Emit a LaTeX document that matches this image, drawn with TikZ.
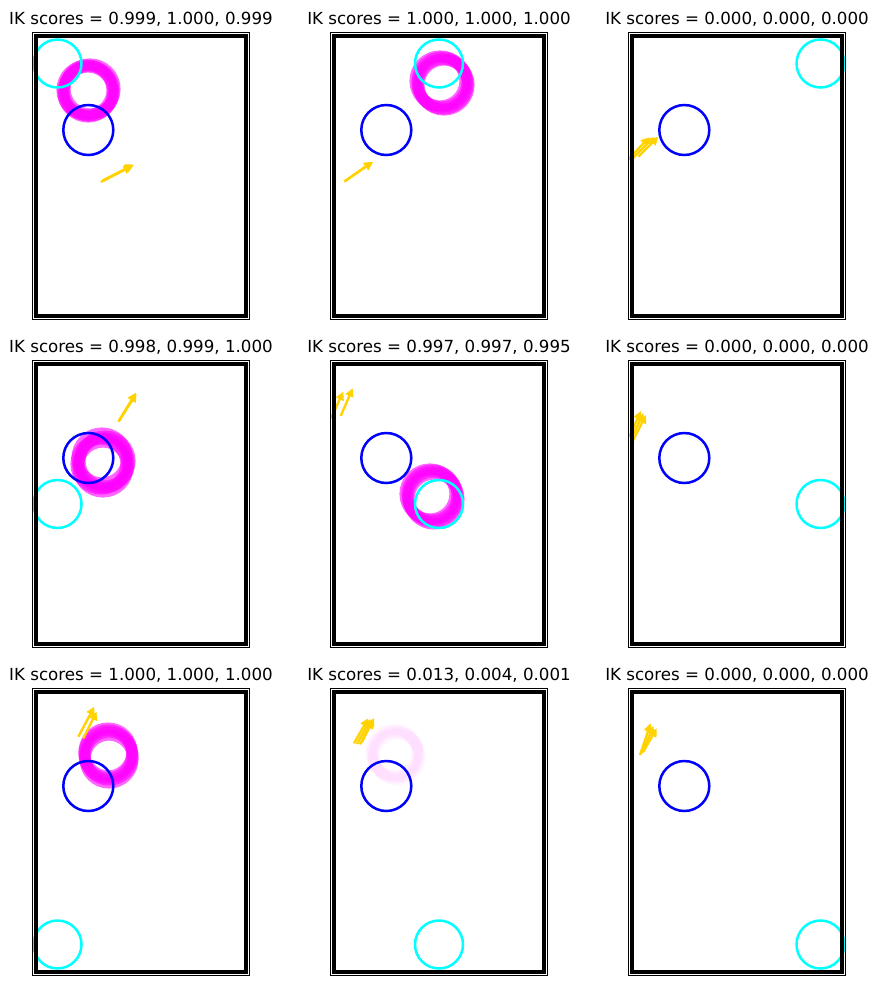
\documentclass[tikz,border=0pt]{standalone}
\usepackage{fontspec}
\setmainfont{DejaVu Sans}
\usetikzlibrary{arrows.meta}
\definecolor{mgold}{RGB}{255,210,0}
\definecolor{mcyan}{RGB}{0,255,255}
\definecolor{mmag}{RGB}{255,0,255}
\definecolor{mblue}{RGB}{0,0,255}
\tikzset{
  frame/.style={draw=black,line width=0.8pt},
  room/.style={draw=black,line width=2.8pt},
  paneltitle/.style={anchor=base,inner sep=0pt,font=\fontsize{12}{14}\selectfont},
  bluering/.style={draw=mblue,line width=1.8pt},
  cyanring/.style={draw=mcyan,line width=1.8pt},
  hand/.style={draw=mmag,line width=8pt,draw opacity=0.6},
  faint/.style={draw=mmag,line width=8pt,draw opacity=0.03},
  arr/.style={draw=mgold,line width=1.7pt,-{Triangle[length=6pt,width=6pt]}},
}
% #1 name, #2 ox, #3 oy, #4 title, #5 cyan x, #6 cyan y, #7 contents
\newcommand\ikpanel[7]{%
  \begin{scope}[shift={(#2,#3)}]
    \node[paneltitle] (#1) at (105,-12) {#4};
    \begin{scope}
      \clip (-3.5,-3.5) rectangle (213.5,283.5);
      #7
      \draw[bluering] (52.3,94) circle[radius=25];
      \draw[cyanring] (#5,#6) circle[radius=24];
    \end{scope}
    \draw[room] (0,0) rectangle (210,280);
    \draw[frame] (-3.5,-3.5) rectangle (213.5,283.5);
  \end{scope}}
\begin{document}
\begin{tikzpicture}[x=0.72pt,y=-0.72pt]
\useasboundingbox[fill=white] (0,0) rectangle (877,990);

\ikpanel{t1}{36}{36}{IK scores = 0.999, 1.000, 0.999}{21.5}{27.5}{%
  \foreach \a/\b in {51/54,53/55,52/56,54/53} \draw[hand] (\a,\b) circle[radius=25];
  \draw[arr] (65,146) -- (96,130);
  \draw[arr] (66,145) -- (97.3,129);
  \draw[arr] (67,144.5) -- (98,128.5);
}
\ikpanel{t2}{334}{36}{IK scores = 1.000, 1.000, 1.000}{105}{27.5}{%
  \foreach \a/\b in {106/45,109/48,108/46,110/49} \draw[hand] (\a,\b) circle[radius=25];
  \draw[arr] (10.3,145.7) -- (38.3,125.7);
  \draw[arr] (11,145) -- (39,126);
}
\ikpanel{t3}{632}{36}{IK scores = 0.000, 0.000, 0.000}{188.5}{27.5}{%
  \draw[arr] (-3.7,123.3) -- (17.3,101.3);
  \draw[arr] (1,122) -- (22,101);
  \draw[arr] (6.3,120.7) -- (26.3,100.7);
}
\ikpanel{t4}{36}{364}{IK scores = 0.998, 0.999, 1.000}{21.5}{140}{%
  \foreach \a/\b in {66/94,68/99,67/103,69/97,65/100} \draw[hand] (\a,\b) circle[radius=25];
  \draw[arr] (82.3,57.7) -- (100,28.7);
  \draw[arr] (83,57) -- (100.5,29.5);
}
\ikpanel{t5}{334}{364}{IK scores = 0.997, 0.997, 0.995}{105}{140}{%
  \foreach \a/\b in {96/130,99/133,98/131,100/135} \draw[hand] (\a,\b) circle[radius=25];
  \draw[arr] (-3,54.3) -- (9.3,27.7);
  \draw[arr] (6.7,52) -- (18.7,24.3);
}
\ikpanel{t6}{632}{364}{IK scores = 0.000, 0.000, 0.000}{188.5}{140}{%
  \draw[arr] (-2.7,72.7) -- (9,47);
  \draw[arr] (-1,75) -- (11.5,49);
  \draw[arr] (0.7,77) -- (14,51);
}
\ikpanel{t7}{36}{692}{IK scores = 1.000, 1.000, 1.000}{21.5}{252.5}{%
  \foreach \a/\b in {72/60,73/64,73/67,72/62} \draw[hand] (\a,\b) circle[radius=24];
  \draw[arr] (42.3,44.7) -- (58.3,14.7);
  \draw[arr] (47.3,46.3) -- (60.7,19.7);
}
\ikpanel{t8}{334}{692}{IK scores = 0.013, 0.004, 0.001}{105}{252.5}{%
  \foreach \a/\b in {60/60,62/63,63/65,61/62} \draw[faint] (\a,\b) circle[radius=23];
  \draw[arr] (20,51.3) -- (34.3,26.3);
  \draw[arr] (23,52) -- (36.5,27);
  \draw[arr] (26,52.3) -- (38.7,28);
  \draw[arr] (28,50) -- (40,26);
}
\ikpanel{t9}{632}{692}{IK scores = 0.000, 0.000, 0.000}{188.5}{252.5}{%
  \draw[arr] (8,63) -- (18.7,31.3);
  \draw[arr] (10,61) -- (21.5,34);
  \draw[arr] (11.3,59.7) -- (24.7,36.3);
}
\end{tikzpicture}
\end{document}
